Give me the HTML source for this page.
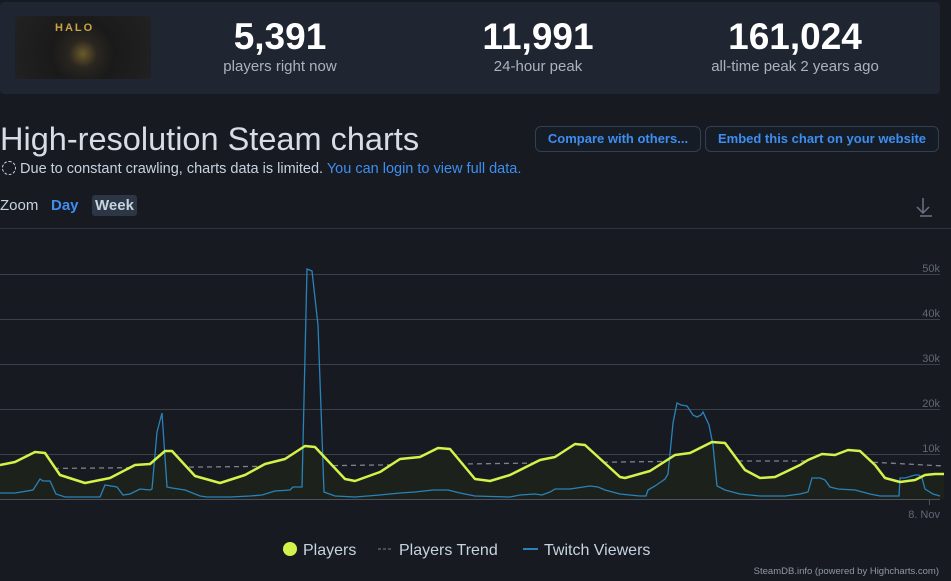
<!DOCTYPE html>
<html><head><meta charset="utf-8"><style>
*{margin:0;padding:0;box-sizing:border-box}
body{width:951px;height:581px;background:#171a21;font-family:"Liberation Sans",sans-serif;color:#c6d4df;position:relative;overflow:hidden}
.hdr{position:absolute;left:0;top:2px;width:940px;height:92px;background:#1f2531;border-radius:4px}
.img{position:absolute;left:15px;top:16px;width:136px;height:63px;border-radius:4px;background:radial-gradient(circle at 50% 60%,#6b5a2a 0,#2a2620 18%,#1a1a1a 40%,#222 100%)}
.img span{position:absolute;left:40px;top:6px;color:#c9a34a;font-size:11px;letter-spacing:2px;font-weight:bold}
.st{position:absolute;top:16px;text-align:center;width:220px}
.st b{display:block;font-size:37px;color:#fff;line-height:42px}
.st i{font-style:normal;font-size:15px;color:#aab4be}
h1{position:absolute;left:0;top:121px;font-weight:normal;font-size:32.5px;color:#d6dde4}
.note{position:absolute;left:2px;top:161px;font-size:14.5px;color:#c6d4df}
.note a{color:#3d8ef0}
.btn{position:absolute;top:126px;height:26px;border:1px solid #33404f;border-radius:6px;background:#161c26;color:#3d8ef0;font-weight:bold;font-size:13px;line-height:24px;text-align:center}
.zoom{position:absolute;left:0;top:197px;font-size:15px}
.zoom .d{position:absolute;left:51px;color:#3d8ef0;font-weight:bold}
.zoom .w{position:absolute;left:92px;top:-2px;background:#2c3645;padding:2px 3px;border-radius:3px;font-weight:bold;color:#c6d4df}
svg{position:absolute;left:0;top:0}
</style></head><body>
<div class="hdr"></div>
<div class="img"><span>HALO</span></div>
<div class="st" style="left:170px"><b>5,391</b><i>players right now</i></div>
<div class="st" style="left:428px"><b>11,991</b><i>24-hour peak</i></div>
<div class="st" style="left:685px"><b>161,024</b><i>all-time peak 2 years ago</i></div>
<h1>High-resolution Steam charts</h1>
<div class="btn" style="left:535px;width:166px">Compare with others...</div>
<div class="btn" style="left:705px;width:234px">Embed this chart on your website</div>
<div class="note"><span style="display:inline-block;width:14px;height:14px;border:1.5px dashed #c6d4df;border-radius:50%;vertical-align:-2px"></span> Due to constant crawling, charts data is limited. <a>You can login to view full data.</a></div>
<div class="zoom"><span>Zoom</span><span class="d">Day</span><span class="w">Week</span></div>
<svg width="951" height="581" font-family="Liberation Sans, sans-serif">
<path d="M923 198v14M917 207l6 6 6-6M920 216h12" stroke="#6b7380" stroke-width="1.5" fill="none"/>
<line x1="0" y1="228.5" x2="951" y2="228.5" stroke="#2e3440"/>
<g stroke="#3a404c" stroke-width="1">
<line x1="0" y1="274.5" x2="940" y2="274.5"/><line x1="0" y1="319.5" x2="940" y2="319.5"/><line x1="0" y1="364.5" x2="940" y2="364.5"/><line x1="0" y1="409.5" x2="940" y2="409.5"/><line x1="0" y1="454.5" x2="940" y2="454.5"/><line x1="0" y1="499.5" x2="940" y2="499.5" stroke="#4a505c"/>
<line x1="929.5" y1="499" x2="929.5" y2="505" stroke="#4a505c"/>
</g>
<g fill="#5f6874" font-size="11" text-anchor="end">
<text x="940" y="272">50k</text><text x="940" y="317">40k</text><text x="940" y="362">30k</text><text x="940" y="407">20k</text><text x="940" y="452">10k</text><text x="940" y="497">0</text>
<text x="940" y="518">8. Nov</text></g>
<path d="M0 469 L300 466 L700 461 L850 461 L944 466" stroke="#7d838d" stroke-width="1.3" stroke-dasharray="5,4" fill="none"/>
<path d="M0 465 L15 462 L35 452 L45 453 L60 475 L85 483 L110 478 L135 465 L150 464 L165 451 L172 451 L195 476 L220 483 L245 475 L265 464 L285 459 L305 446 L315 447 L345 479 L355 481 L380 472 L400 459 L420 457 L438 448 L450 449 L475 479 L490 481 L510 475 L540 460 L555 457 L575 444 L585 445 L620 477 L625 478 L650 471 L675 455 L690 453 L712 442 L725 443 L745 470 L760 478 L775 477 L800 465 L808 460 L822 454 L835 455 L848 450 L860 451 L875 465 L885 478 L900 482 L915 480 L925 475 L935 474 L944 474 L944 499 L0 499Z" fill="#1c211c"/>
<path d="M0 493 L15 493 L33 490 L40 479 L43 481 L50 481 L56 494 L65 497 L100 497 L105 485 L117 487 L123 495 L130 494 L140 489 L150 490 L152 489 L157 432 L162 413 L167 487 L172 488 L185 490 L200 496 L207 497 L230 497 L250 496 L262 495 L275 491 L290 490 L293 487 L302 487 L307 269 L312 271 L318 325 L324 492 L335 496 L355 497 L380 495 L400 493 L415 492 L433 490 L448 490 L460 493 L475 496 L510 497 L520 495 L535 494 L542 495 L550 492 L555 489 L570 489 L590 486 L598 487 L605 490 L620 494 L640 496 L646 496 L648 490 L655 486 L665 479 L668 474 L673 423 L677 403 L681 405 L687 406 L693 415 L697 417 L701 415 L703 412 L709 425 L713 445 L717 486 L725 490 L740 494 L760 496 L785 496 L800 494 L808 492 L812 478 L820 478 L825 480 L830 487 L838 489 L855 490 L870 494 L880 496 L899 496 L900 478 L905 478 L915 475 L919 475 L922 478 L925 489 L933 494 L940 496" stroke="#2a82b8" stroke-width="1.3" fill="none"/>
<path d="M0 465 L15 462 L35 452 L45 453 L60 475 L85 483 L110 478 L135 465 L150 464 L165 451 L172 451 L195 476 L220 483 L245 475 L265 464 L285 459 L305 446 L315 447 L345 479 L355 481 L380 472 L400 459 L420 457 L438 448 L450 449 L475 479 L490 481 L510 475 L540 460 L555 457 L575 444 L585 445 L620 477 L625 478 L650 471 L675 455 L690 453 L712 442 L725 443 L745 470 L760 478 L775 477 L800 465 L808 460 L822 454 L835 455 L848 450 L860 451 L875 465 L885 478 L900 482 L915 480 L925 475 L935 474 L944 474" stroke="#d4f34a" stroke-width="2.5" stroke-linejoin="round" fill="none"/>
<circle cx="290" cy="549" r="7" fill="#d4f34a"/>
<text x="303" y="555" fill="#c6d4df" font-size="16">Players</text>
<line x1="378" y1="549" x2="393" y2="549" stroke="#7d838d" stroke-dasharray="3,2"/>
<text x="399" y="555" fill="#c6d4df" font-size="16">Players Trend</text>
<line x1="523" y1="549" x2="538" y2="549" stroke="#2a82b8" stroke-width="2"/>
<text x="544" y="555" fill="#c6d4df" font-size="16">Twitch Viewers</text>
<text x="939" y="574" fill="#8f98a0" font-size="9.5" text-anchor="end">SteamDB.info (powered by Highcharts.com)</text>
</svg>
</body></html>
